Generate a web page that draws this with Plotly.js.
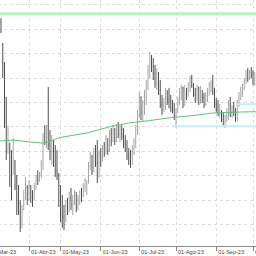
<!DOCTYPE html>
<html>
<head>
<meta charset="utf-8">
<script src="https://cdn.plot.ly/plotly-3.0.1.min.js"></script>
<style>
html,body{margin:0;padding:0;overflow:hidden;background:#fff;width:256px;height:256px;}
#chart{position:absolute;left:-20px;top:0;width:320px;height:256px;}
</style>
</head>
<body>
<div id="chart"></div>
<script>
// Trading-day index of the first visible bar
const firstBar = 7;
const opens = [18.3,17.4,16.0,14.2,13.0,13.3,11.8,12.1,12.6,11.7,11.0,10.5,10.0,10.6,11.2,11.5,11.0,11.6,11.1,11.0,11.5,11.9,11.8,12.1,12.5,13.6,13.4,13.9,13.3,13.0,13.4,12.6,12.2,12.0,11.0,10.4,10.3,10.1,10.8,10.5,11.1,10.8,11.0,11.2,10.7,11.0,11.3,11.2,11.6,11.4,11.7,12.4,12.8,12.2,12.9,12.5,12.0,12.9,12.6,13.1,12.9,13.5,13.0,13.7,13.4,13.9,13.4,14.0,13.7,13.9,13.6,13.3,13.1,12.8,12.6,12.5,13.1,13.4,13.9,14.5,15.2,14.6,14.9,15.3,15.7,16.3,16.9,16.5,16.2,15.8,16.2,15.5,14.9,14.7,15.0,15.4,15.1,15.0,14.8,14.7,14.4,14.6,15.1,15.4,15.6,14.9,15.5,15.3,15.7,16.0,15.7,15.3,15.1,15.6,15.0,15.5,15.2,14.9,15.3,15.5,15.7,15.8,15.4,14.9,14.7,14.5,14.6,14.3,14.2,14.4,14.6,14.9,14.5,14.8,14.6,14.3,14.9,15.3,15.5,15.6,15.9,16.2,16.0,16.2,16.1,15.8];
const highs = [18.46,17.44,16.66,15.23,14.05,13.35,13.05,13.54,12.64,12.03,11.62,11.0,10.8,11.41,11.95,11.62,11.82,11.62,11.41,11.7,12.03,12.23,12.15,12.64,13.75,14.08,14.08,15.64,13.87,13.67,13.46,13.26,13.05,12.11,11.62,11.21,10.8,11.0,11.09,11.33,11.5,11.21,11.41,11.33,11.21,11.41,11.5,11.7,11.9,11.82,12.56,12.97,12.85,13.13,13.26,13.46,13.05,13.13,13.26,13.38,13.67,13.54,13.87,13.95,14.08,13.95,14.12,14.2,14.04,14.12,13.95,13.67,13.46,13.13,13.05,13.26,13.54,14.08,14.69,15.43,15.25,15.1,15.51,15.92,16.54,17.07,16.95,16.82,16.54,16.41,16.25,15.92,15.31,15.18,15.6,15.51,15.6,15.31,15.1,14.98,14.77,15.23,15.6,15.72,15.65,15.72,15.6,15.84,16.08,16.13,15.8,15.6,15.72,15.65,15.68,15.51,15.39,15.43,15.6,15.84,15.92,16.13,15.6,15.19,15.1,14.94,14.69,14.61,14.49,14.77,15.1,15.23,14.9,15.02,14.77,15.1,15.43,15.64,15.76,16.0,16.33,16.41,16.33,16.45,16.33,16.25];
const lows = [17.85,16.0,13.95,12.64,12.9,11.54,11.0,12.03,11.41,10.39,10.39,9.69,9.86,10.59,11.0,10.8,11.0,10.88,10.72,11.0,11.41,11.62,11.74,11.9,12.23,13.26,13.13,13.05,12.64,12.44,12.36,11.95,11.82,10.72,10.1,9.86,9.77,10.1,10.39,10.51,10.59,10.39,10.8,10.51,10.59,10.8,10.92,11.13,11.33,11.21,11.68,12.23,12.03,12.15,12.36,11.7,11.9,12.36,12.58,12.77,12.88,12.85,12.98,13.21,13.38,13.26,13.38,13.54,13.38,13.46,13.13,12.97,12.64,12.44,12.32,12.45,12.85,13.13,13.67,14.37,14.28,14.2,14.49,14.9,15.51,16.0,16.25,15.92,15.6,15.51,15.31,14.77,14.49,14.61,14.69,14.9,14.77,14.61,14.57,14.28,13.95,14.55,14.9,15.1,14.77,14.85,15.1,15.23,15.43,15.6,15.23,14.98,15.05,14.9,14.95,14.98,14.77,14.86,15.02,15.27,15.43,15.31,14.77,14.57,14.45,14.37,14.2,14.04,13.95,14.2,14.28,14.41,14.37,14.45,14.2,14.25,14.82,15.1,15.23,15.51,15.76,15.84,15.92,16.0,15.72,15.68];
const closes = [17.9,16.1,14.2,13.0,13.8,11.8,11.3,13.3,11.6,10.6,10.5,9.9,10.6,11.3,11.8,11.0,11.6,11.1,10.9,11.6,11.9,11.8,12.1,12.5,13.6,13.4,13.9,13.3,13.0,13.4,12.5,12.2,12.0,11.0,10.4,10.3,10.0,10.8,10.5,11.1,10.8,11.0,11.3,10.7,11.1,11.3,11.0,11.6,11.8,11.7,12.4,12.8,12.2,12.9,12.5,12.0,12.9,12.6,13.1,12.9,13.5,13.0,13.7,13.4,13.9,13.4,14.0,13.7,13.9,13.6,13.3,13.1,12.8,12.6,12.5,13.1,13.4,13.9,14.5,15.2,14.6,14.9,15.3,15.7,16.3,16.9,16.5,16.2,15.8,16.2,15.5,14.9,14.7,15.0,15.4,15.1,15.0,14.8,14.7,14.4,14.6,15.1,15.4,15.6,14.9,15.5,15.3,15.7,16.0,15.7,15.3,15.1,15.6,15.0,15.5,15.2,14.9,15.3,15.5,15.7,15.8,15.4,14.9,14.7,14.5,14.6,14.3,14.2,14.4,14.6,14.9,14.5,14.8,14.6,14.3,14.9,15.3,15.5,15.6,15.9,16.2,16.0,16.2,16.1,15.8,16.0];

// Moving average (at sparse bar indices)
const maIndex = [5,14,24,32,41,56,69,80,92,104,115,128,144,158];
const maValues = [13.42,13.46,13.38,13.33,13.57,13.75,14.0,14.16,14.26,14.38,14.45,14.57,14.61,14.63];

// Horizontal levels
const resistanceLevel = 18.635;
const supportLevels = [14.03, 14.93];
const supportStart = [105, 142];
const levelEnd = 178;

// Month ticks (trading-day index of first bar of each month)
const monthIndex = [0,23,41,64,86,107,130,151];
const monthLabels = ["01-Mar-23","01-Abr-23","01-May-23","01-Jun-23","01-Jul-23","01-Ago-23","01-Sep-23","01-Oct-23"];

const barIndex = opens.map((_, k) => firstBar + k);

const traces = [];
traces.push({type:'scatter', mode:'lines', x:[-5, levelEnd], y:[resistanceLevel, resistanceLevel],
  line:{color:'#b8f4b8', width:3}, hoverinfo:'skip', showlegend:false});
supportLevels.forEach((lv, k) => {
  traces.push({type:'scatter', mode:'lines', x:[supportStart[k], levelEnd], y:[lv, lv],
    line:{color:'#bff2f8', width:2}, hoverinfo:'skip', showlegend:false});
});
traces.push({type:'ohlc', x:barIndex, open:opens, high:highs, low:lows, close:closes,
  increasing:{line:{color:'#a6a6a6', width:1}}, decreasing:{line:{color:'#505050', width:1}},
  tickwidth:0.2, showlegend:false});
traces.push({type:'scatter', mode:'lines', x:maIndex, y:maValues,
  line:{color:'#5cc47e', width:1}, showlegend:false});

const layout = {
  width:320, height:256,
  margin:{l:0, r:0, t:0, b:10},
  paper_bgcolor:'#ffffff', plot_bgcolor:'#ffffff',
  showlegend:false,
  xaxis:{
    range:[-5, 177.86], tickmode:'array', tickvals:monthIndex, ticktext:monthLabels,
    ticks:'outside', ticklen:4, tickcolor:'#8a8a8a', tickwidth:1, tickangle:0,
    showgrid:true, gridcolor:'#dcdcdc', griddash:'dot', gridwidth:1,
    showline:true, linecolor:'#8a8a8a', linewidth:1, zeroline:false,
    tickfont:{family:'Liberation Sans, Arial, sans-serif', size:5.5, color:'#444'},
    ticklabelposition:'outside right', ticklabeloverflow:'allow',
    ticklabelstandoff:0, ticklabelshift:1, rangeslider:{visible:false}, fixedrange:true
  },
  yaxis:{
    range:[9.119, 19.201], tickmode:'array', tickvals:[10,11,12,13,14,15,16,17,18,19],
    showticklabels:false, ticks:'', showgrid:true, gridcolor:'#dcdcdc', griddash:'dot',
    zeroline:false, showline:false, fixedrange:true
  }
};
Plotly.newPlot('chart', traces, layout, {staticPlot:true, displayModeBar:false});
</script>
</body>
</html>
